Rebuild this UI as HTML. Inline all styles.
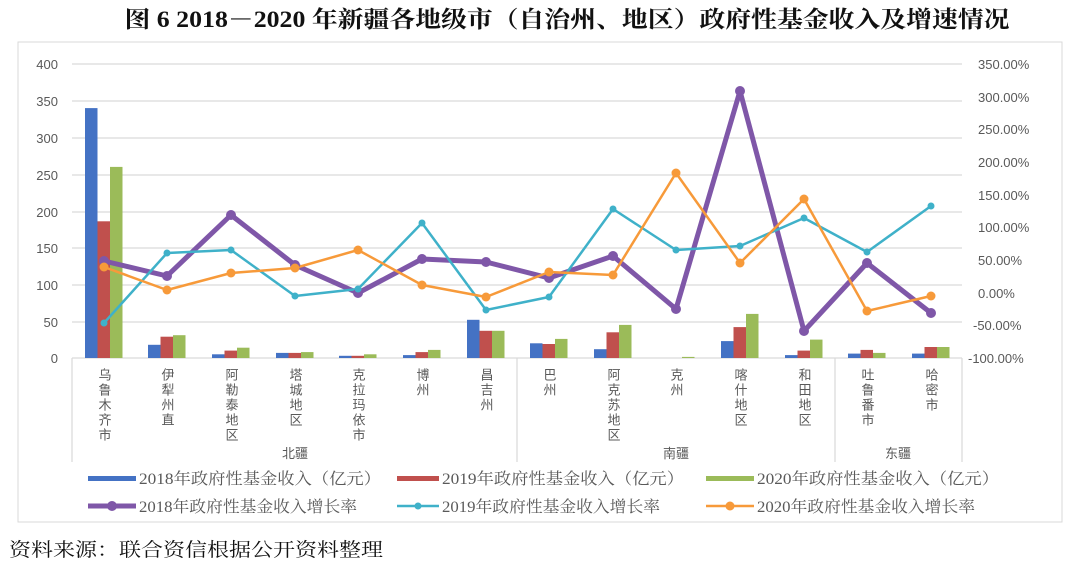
<!DOCTYPE html>
<html><head><meta charset="utf-8"><style>
body{margin:0;background:#fff;width:1080px;height:565px;overflow:hidden}
svg{display:block}
.v{writing-mode:tb;letter-spacing:2px}
</style></head><body>
<svg width="1080" height="565" xmlns="http://www.w3.org/2000/svg" font-family="'Liberation Serif','Noto Serif CJK SC',serif">
<text x="567" y="27" text-anchor="middle" font-size="23" font-weight="bold" fill="#111" textLength="885" lengthAdjust="spacingAndGlyphs">图 6  2018－2020 年新疆各地级市（自治州、地区）政府性基金收入及增速情况</text>
<rect x="18" y="42" width="1044" height="480" fill="none" stroke="#d9d9d9"/>
<g stroke="#d9d9d9" stroke-width="1.2">
<line x1="72" x2="962" y1="64" y2="64"/><line x1="72" x2="962" y1="101" y2="101"/><line x1="72" x2="962" y1="138" y2="138"/><line x1="72" x2="962" y1="175" y2="175"/><line x1="72" x2="962" y1="212" y2="212"/><line x1="72" x2="962" y1="248" y2="248"/><line x1="72" x2="962" y1="285" y2="285"/><line x1="72" x2="962" y1="322" y2="322"/><line x1="72" x2="962" y1="358" y2="358"/>
<line x1="72" x2="72" y1="358" y2="462"/><line x1="517" x2="517" y1="358" y2="462"/><line x1="835" x2="835" y1="358" y2="462"/><line x1="962" x2="962" y1="358" y2="462"/>
</g>
<g font-family="'Liberation Sans',sans-serif" font-size="13" fill="#595959" text-anchor="end">
<text x="58" y="69">400</text><text x="58" y="106">350</text><text x="58" y="143">300</text><text x="58" y="180">250</text><text x="58" y="217">200</text><text x="58" y="253">150</text><text x="58" y="290">100</text><text x="58" y="327">50</text><text x="58" y="363">0</text>
</g>
<g font-family="'Liberation Sans',sans-serif" font-size="13" fill="#595959">
<text x="978" y="69">350.00%</text><text x="978" y="102">300.00%</text><text x="978" y="134">250.00%</text><text x="978" y="167">200.00%</text><text x="978" y="200">150.00%</text><text x="978" y="232">100.00%</text><text x="978" y="265">50.00%</text><text x="978" y="298">0.00%</text><text x="973" y="330">-50.00%</text><text x="968" y="363">-100.00%</text>
</g>
<g fill="#4472c4">
<rect x="85" y="108.1" width="12.5" height="249.9"/><rect x="148" y="344.8" width="12.5" height="13.2"/><rect x="212" y="354.3" width="12.5" height="3.7"/><rect x="276" y="352.9" width="12.5" height="5.1"/><rect x="339" y="355.8" width="12.5" height="2.2"/><rect x="403" y="355.1" width="12.5" height="2.9"/><rect x="467" y="319.8" width="12.5" height="38.2"/><rect x="530" y="343.3" width="12.5" height="14.7"/><rect x="594" y="349.2" width="12.5" height="8.8"/><rect x="721" y="341.1" width="12.5" height="16.9"/><rect x="785" y="355.1" width="12.5" height="2.9"/><rect x="848" y="353.6" width="12.5" height="4.4"/><rect x="912" y="353.6" width="12.5" height="4.4"/>
</g>
<g fill="#c0504d">
<rect x="97.5" y="221.3" width="12.5" height="136.7"/><rect x="160.5" y="336.7" width="12.5" height="21.3"/><rect x="224.5" y="350.6" width="12.5" height="7.4"/><rect x="288.5" y="352.9" width="12.5" height="5.1"/><rect x="351.5" y="355.8" width="12.5" height="2.2"/><rect x="415.5" y="352.1" width="12.5" height="5.9"/><rect x="479.5" y="330.8" width="12.5" height="27.2"/><rect x="542.5" y="344" width="12.5" height="14"/><rect x="606.5" y="332.3" width="12.5" height="25.7"/><rect x="733.5" y="327.1" width="12.5" height="30.9"/><rect x="797.5" y="350.6" width="12.5" height="7.4"/><rect x="860.5" y="349.9" width="12.5" height="8.1"/><rect x="924.5" y="347" width="12.5" height="11"/>
</g>
<g fill="#9bbb59">
<rect x="110" y="166.9" width="12.5" height="191.1"/><rect x="173" y="335.2" width="12.5" height="22.8"/><rect x="237" y="347.7" width="12.5" height="10.3"/><rect x="301" y="352.1" width="12.5" height="5.9"/><rect x="364" y="354.3" width="12.5" height="3.7"/><rect x="428" y="349.9" width="12.5" height="8.1"/><rect x="492" y="330.8" width="12.5" height="27.2"/><rect x="555" y="338.9" width="12.5" height="19.1"/><rect x="619" y="324.9" width="12.5" height="33.1"/><rect x="682" y="356.9" width="12.5" height="1.1"/><rect x="746" y="313.9" width="12.5" height="44.1"/><rect x="810" y="339.6" width="12.5" height="18.4"/><rect x="873" y="352.9" width="12.5" height="5.1"/><rect x="937" y="347" width="12.5" height="11"/>
</g>
<g font-family="'Liberation Sans','Noto Sans CJK SC',sans-serif" font-size="13" fill="#595959">
<text class="v" x="104" y="368">乌鲁木齐市</text><text class="v" x="167" y="368">伊犁州直</text><text class="v" x="231" y="368">阿勒泰地区</text><text class="v" x="295" y="368">塔城地区</text><text class="v" x="358" y="368">克拉玛依市</text><text class="v" x="422" y="368">博州</text><text class="v" x="486" y="368">昌吉州</text><text class="v" x="549" y="368">巴州</text><text class="v" x="613" y="368">阿克苏地区</text><text class="v" x="676" y="368">克州</text><text class="v" x="740" y="368">喀什地区</text><text class="v" x="804" y="368">和田地区</text><text class="v" x="867" y="368">吐鲁番市</text><text class="v" x="931" y="368">哈密市</text>
</g>
<g font-family="'Liberation Sans','Noto Sans CJK SC',sans-serif" font-size="13" fill="#595959" text-anchor="middle">
<text x="295" y="458">北疆</text><text x="676" y="458">南疆</text><text x="898" y="458">东疆</text>
</g>
<g fill="none" stroke-linejoin="round">
<polyline stroke="#7f57a8" stroke-width="5" points="104,261 167,276 231,215 295,265 358,293 422,259 486,262 549,278 613,256 676,309 740,91 804,331 867,263 931,313"/>
<polyline stroke="#3fb1c9" stroke-width="2.5" points="104,323 167,253 231,250 295,296 358,289 422,223 486,310 549,297 613,209 676,250 740,246 804,218 867,252 931,206"/>
<polyline stroke="#f79a3a" stroke-width="2.5" points="104,267 167,290 231,273 295,268 358,250 422,285 486,297 549,272 613,275 676,173 740,263 804,199 867,311 931,296"/>
</g>
<g fill="#7f57a8">
<circle cx="104" cy="261" r="5"/><circle cx="167" cy="276" r="5"/><circle cx="231" cy="215" r="5"/><circle cx="295" cy="265" r="5"/><circle cx="358" cy="293" r="5"/><circle cx="422" cy="259" r="5"/><circle cx="486" cy="262" r="5"/><circle cx="549" cy="278" r="5"/><circle cx="613" cy="256" r="5"/><circle cx="676" cy="309" r="5"/><circle cx="740" cy="91" r="5"/><circle cx="804" cy="331" r="5"/><circle cx="867" cy="263" r="5"/><circle cx="931" cy="313" r="5"/>
</g>
<g fill="#3fb1c9">
<circle cx="104" cy="323" r="3.5"/><circle cx="167" cy="253" r="3.5"/><circle cx="231" cy="250" r="3.5"/><circle cx="295" cy="296" r="3.5"/><circle cx="358" cy="289" r="3.5"/><circle cx="422" cy="223" r="3.5"/><circle cx="486" cy="310" r="3.5"/><circle cx="549" cy="297" r="3.5"/><circle cx="613" cy="209" r="3.5"/><circle cx="676" cy="250" r="3.5"/><circle cx="740" cy="246" r="3.5"/><circle cx="804" cy="218" r="3.5"/><circle cx="867" cy="252" r="3.5"/><circle cx="931" cy="206" r="3.5"/>
</g>
<g fill="#f79a3a">
<circle cx="104" cy="267" r="4.5"/><circle cx="167" cy="290" r="4.5"/><circle cx="231" cy="273" r="4.5"/><circle cx="295" cy="268" r="4.5"/><circle cx="358" cy="250" r="4.5"/><circle cx="422" cy="285" r="4.5"/><circle cx="486" cy="297" r="4.5"/><circle cx="549" cy="272" r="4.5"/><circle cx="613" cy="275" r="4.5"/><circle cx="676" cy="173" r="4.5"/><circle cx="740" cy="263" r="4.5"/><circle cx="804" cy="199" r="4.5"/><circle cx="867" cy="311" r="4.5"/><circle cx="931" cy="296" r="4.5"/>
</g>
<g font-size="16" fill="#595959">
<rect x="88" y="476" width="48" height="5" fill="#4472c4"/><text x="139" y="484" textLength="242" lengthAdjust="spacingAndGlyphs">2018年政府性基金收入（亿元）</text>
<rect x="397" y="476" width="42" height="5" fill="#c0504d"/><text x="442" y="484" textLength="242" lengthAdjust="spacingAndGlyphs">2019年政府性基金收入（亿元）</text>
<rect x="706" y="476" width="48" height="5" fill="#9bbb59"/><text x="757" y="484" textLength="242" lengthAdjust="spacingAndGlyphs">2020年政府性基金收入（亿元）</text>
<line x1="88" x2="136" y1="506" y2="506" stroke="#7f57a8" stroke-width="5"/><circle cx="112" cy="506" r="5" fill="#7f57a8"/><text x="139" y="512" textLength="218" lengthAdjust="spacingAndGlyphs">2018年政府性基金收入增长率</text>
<line x1="397" x2="439" y1="506" y2="506" stroke="#3fb1c9" stroke-width="2.5"/><circle cx="418" cy="506" r="3.5" fill="#3fb1c9"/><text x="442" y="512" textLength="218" lengthAdjust="spacingAndGlyphs">2019年政府性基金收入增长率</text>
<line x1="706" x2="754" y1="506" y2="506" stroke="#f79a3a" stroke-width="2.5"/><circle cx="730" cy="506" r="4.5" fill="#f79a3a"/><text x="757" y="512" textLength="218" lengthAdjust="spacingAndGlyphs">2020年政府性基金收入增长率</text>
</g>
<text x="9" y="556" font-size="19" fill="#111" textLength="374" lengthAdjust="spacingAndGlyphs">资料来源：联合资信根据公开资料整理</text>
</svg>
</body></html>
